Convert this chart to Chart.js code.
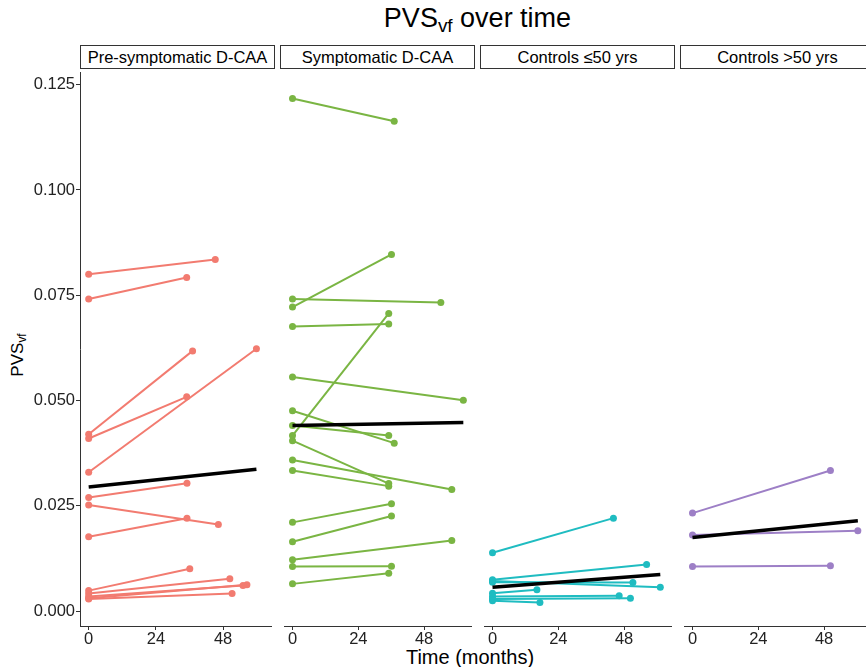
<!DOCTYPE html>
<html>
<head>
<meta charset="utf-8">
<script src="https://cdn.jsdelivr.net/npm/chart.js@4.4.0/dist/chart.umd.min.js"></script>
<style>
  body { margin: 0; background: #fff; }
  #wrap { position: relative; width: 866px; height: 667px; overflow: hidden; font-family: "Liberation Sans", Arial, sans-serif; color: #000; }
  canvas { position: absolute; top: 68px; }
  .strip { position: absolute; top: 45px; height: 22px; width: 193px; border: 1px solid #333; font-size: 16.5px; line-height: 22px; text-align: center; white-space: nowrap; }
  #title { position: absolute; top: 2px; left: 80px; width: 795px; text-align: center; font-size: 27px; line-height: 32px; }
  #ytitle { position: absolute; left: 18px; top: 355px; font-size: 17px; transform: translate(-50%, -50%) rotate(-90deg); white-space: nowrap; }
  #xtitle { position: absolute; left: 70px; width: 800px; top: 647px; text-align: center; font-size: 20px; line-height: 20px; }
  sub { font-size: 70%; vertical-align: -0.25em; line-height: 0; }
</style>
</head>
<body>
<div id="wrap">
  <div id="title">PVS<sub>vf</sub> over time</div>
  <div id="ytitle">PVS<sub>vf</sub></div>
  <div id="xtitle">Time (months)</div>
</div>
<script>
// facettes
const panelNames = ["Pre-symptomatic D-CAA", "Symptomatic D-CAA", "Controls \u226450 yrs", "Controls >50 yrs"];
const panelColors = ["#F27B70", "#7AB543", "#1FBCC1", "#9D7FC6"];

// valeurs : baseline (t=0), suivi, mois du suivi
const preBaseline = [0.0800, 0.0741, 0.0420, 0.0410, 0.0330, 0.0270, 0.0252, 0.0177, 0.0049, 0.0042, 0.0035, 0.0031, 0.0029];
const preFollowup = [0.0835, 0.0792, 0.0618, 0.0509, 0.0623, 0.0304, 0.0206, 0.0221, 0.0101, 0.0077, 0.0061, 0.0063, 0.0042];
const preMonths   = [45.2, 35.0, 37.1, 35.0, 59.9, 35.1, 46.3, 35.1, 36.1, 50.4, 55.1, 56.5, 51.2];
const preTrend = [0.0295, 0.0337];
const preTrendEnd = 59.9;

const symBaseline = [0.1217, 0.0722, 0.0741, 0.0676, 0.0417, 0.0556, 0.0476, 0.0441, 0.0405, 0.0359, 0.0334, 0.0211, 0.0165, 0.0122, 0.0106, 0.0065];
const symFollowup = [0.1163, 0.0847, 0.0733, 0.0682, 0.0707, 0.0501, 0.0399, 0.0417, 0.0303, 0.0289, 0.0297, 0.0255, 0.0226, 0.0168, 0.0107, 0.0090];
const symMonths   = [37.1, 36.1, 54.1, 35.1, 35.1, 62.3, 37.1, 35.1, 35.1, 58.1, 35.1, 36.1, 36.1, 58.1, 36.1, 35.1];
const symTrend = [0.0441, 0.0448];
const symTrendEnd = 62.3;

const youngBaseline = [0.0139, 0.0075, 0.0072, 0.0069, 0.0043, 0.0035, 0.0029, 0.0025];
const youngFollowup = [0.0221, 0.0111, 0.0057, 0.0068, 0.0051, 0.0037, 0.0031, 0.0021];
const youngMonths   = [44.1, 56.2, 61.2, 51.2, 16.2, 46.2, 50.3, 17.3];
const youngTrend = [0.0057, 0.0087];
const youngTrendEnd = 61.2;

const oldBaseline = [0.0233, 0.0181, 0.0106];
const oldFollowup = [0.0334, 0.0191, 0.0108];
const oldMonths   = [50.3, 60.3, 50.3];
const oldTrend = [0.0175, 0.0215];
const oldTrendEnd = 60.3;

const yTicks = [0, 0.025, 0.05, 0.075, 0.1, 0.125];
const xTicks = [0, 24, 48];

const groups = [
  [preBaseline, preFollowup, preMonths, preTrend, preTrendEnd],
  [symBaseline, symFollowup, symMonths, symTrend, symTrendEnd],
  [youngBaseline, youngFollowup, youngMonths, youngTrend, youngTrendEnd],
  [oldBaseline, oldFollowup, oldMonths, oldTrend, oldTrendEnd]
];

let wrap = document.getElementById("wrap");

for (let p = 0; p < 4; p++) {
  let left = p == 0 ? 0 : 80 + 200 * p;
  let width = p == 0 ? 275 : 195;

  let strip = document.createElement("div");
  strip.className = "strip";
  strip.style.left = (80 + 200 * p) + "px";
  strip.textContent = panelNames[p];
  wrap.appendChild(strip);

  let cv = document.createElement("canvas");
  cv.width = width;
  cv.height = 599;
  cv.style.left = left + "px";
  wrap.appendChild(cv);

  let g = groups[p];
  let datasets = [];
  // droite de tendance (dessinée au-dessus)
  datasets.push({
    data: [{x: 0, y: g[3][0]}, {x: g[4], y: g[3][1]}],
    borderColor: "#000",
    borderWidth: 3.5,
    pointRadius: 0,
    order: -1
  });
  for (let i = 0; i < g[0].length; i++) {
    datasets.push({
      data: [{x: 0, y: g[0][i]}, {x: g[2][i], y: g[1][i]}],
      borderColor: panelColors[p],
      backgroundColor: panelColors[p],
      borderWidth: 2,
      pointRadius: 3.5,
      pointBorderWidth: 0,
      pointBackgroundColor: panelColors[p]
    });
  }

  new Chart(cv, {
    type: 'line',
    data: { datasets: datasets },
    options: {
      responsive: false,
      animation: false,
      layout: { padding: 0 },
      plugins: { legend: { display: false }, tooltip: { enabled: false } },
      scales: {
        x: {
          type: 'linear',
          min: -3.1,
          max: 65.1,
          afterBuildTicks: s => { s.ticks = xTicks.map(v => ({value: v})); },
          afterFit: s => { s.height = 41; s.paddingLeft = 0; s.paddingRight = 0; },
          ticks: { color: "#222", font: { size: 16.5, family: "Liberation Sans" }, padding: 0, maxRotation: 0 },
          grid: { drawOnChartArea: false, tickLength: 4, color: "#333" },
          border: { color: "#333", width: 1 }
        },
        y: {
          display: p == 0,
          min: -0.0035,
          max: 0.128,
          afterBuildTicks: s => { s.ticks = yTicks.map(v => ({value: v})); },
          afterFit: s => { s.width = p == 0 ? 80 : 0; s.paddingTop = 0; s.paddingBottom = 0; },
          ticks: { color: "#222", font: { size: 16.5, family: "Liberation Sans" }, padding: 1, callback: v => v.toFixed(3) },
          grid: { drawOnChartArea: false, tickLength: 4, color: "#333" },
          border: { color: "#333", width: 1 }
        }
      }
    }
  });
}
</script>
</body>
</html>
